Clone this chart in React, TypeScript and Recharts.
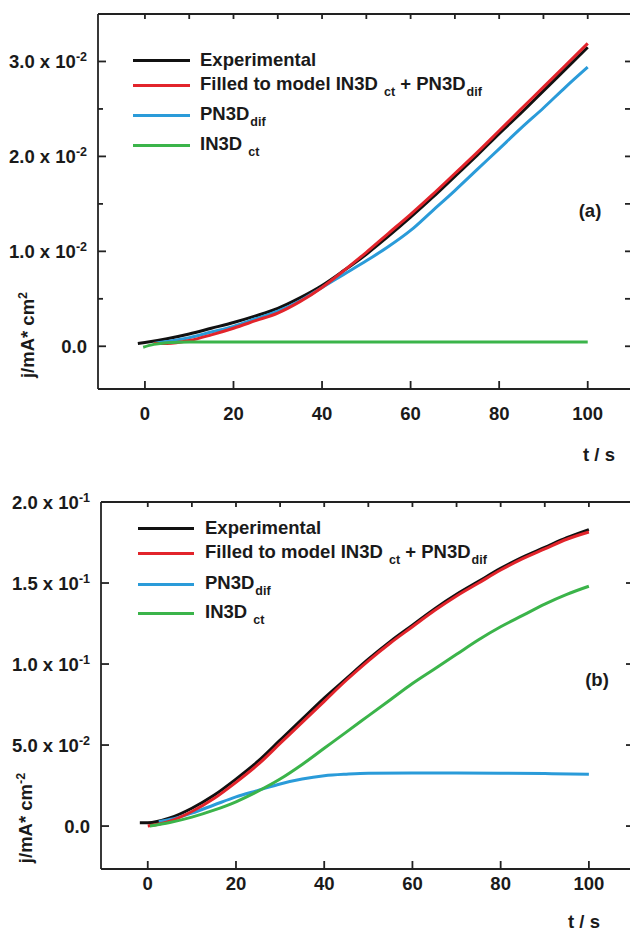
import React from 'react';
import { LineChart, Line, XAxis, YAxis, Legend } from 'recharts';

const FONT = '"Liberation Sans", Arial, Helvetica, sans-serif';
const AXIS = '#222222';
const TEXT = '#1a1a1a';
const C_EXP = '#111111';
const C_FIT = '#e2242b';
const C_PN = '#2a9bd9';
const C_IN = '#3bb44a';

// ---------- Panel (a) data: [t (s), j] ----------
const expA = [
  [-1.6, 0.0003], [0, 0.0004], [5, 0.0008], [10, 0.0013], [15, 0.0019], [20, 0.0025],
  [25, 0.0032], [30, 0.004], [35, 0.0051], [40, 0.0064], [45, 0.008], [50, 0.0097],
  [55, 0.0116], [60, 0.0136], [65, 0.0157], [70, 0.0179], [75, 0.0201], [80, 0.0224],
  [85, 0.0246], [90, 0.0269], [95, 0.0292], [100, 0.0315],
];
const fitA = [
  [2, 0.0003], [5, 0.0003], [10, 0.0006], [15, 0.0012], [20, 0.0019], [25, 0.0027],
  [30, 0.0035], [35, 0.0047], [40, 0.0062], [45, 0.008], [50, 0.0099], [55, 0.0119],
  [60, 0.0139], [65, 0.016], [70, 0.0182], [75, 0.0204], [80, 0.0227], [85, 0.025],
  [90, 0.0273], [95, 0.0296], [100, 0.0319],
];
const pnA = [
  [2, 0.0003], [5, 0.0005], [10, 0.0009], [15, 0.0015], [20, 0.0021], [25, 0.0029],
  [30, 0.0037], [35, 0.0048], [40, 0.0062], [45, 0.0076], [50, 0.009], [55, 0.0105],
  [60, 0.0122], [65, 0.0143], [70, 0.0164], [75, 0.0186], [80, 0.0208], [85, 0.023],
  [90, 0.0251], [95, 0.0273], [100, 0.0294],
];
const inA = [
  [-0.4, -0.0001], [2, 0.0002], [5, 0.00038], [10, 0.00045], [20, 0.00045], [60, 0.00045],
  [100, 0.00045],
];

// ---------- Panel (b) data: [t (s), j] ----------
const expB = [
  [-1.8, 0.002], [0, 0.002], [5, 0.005], [10, 0.011], [15, 0.019], [20, 0.029],
  [25, 0.04], [30, 0.053], [35, 0.066], [40, 0.079], [45, 0.091], [50, 0.103],
  [55, 0.114], [60, 0.124], [65, 0.134], [70, 0.143], [75, 0.151], [80, 0.159],
  [85, 0.166], [90, 0.172], [95, 0.178], [100, 0.183],
];
const fitB = [
  [0, 0.0], [5, 0.003], [10, 0.009], [15, 0.017], [20, 0.027], [25, 0.038],
  [30, 0.051], [35, 0.064], [40, 0.077], [45, 0.09], [50, 0.102], [55, 0.113],
  [60, 0.123], [65, 0.133], [70, 0.142], [75, 0.15], [80, 0.158], [85, 0.165],
  [90, 0.171], [95, 0.177], [100, 0.1815],
];
const pnB = [
  [2.5, 0.0027], [5, 0.004], [10, 0.008], [15, 0.013], [20, 0.018], [25, 0.022],
  [30, 0.026], [35, 0.029], [40, 0.031], [45, 0.032], [50, 0.0326], [60, 0.0327],
  [70, 0.0327], [80, 0.0326], [90, 0.0324], [100, 0.032],
];
const inB = [
  [0.5, 0.0], [5, 0.0022], [10, 0.0055], [15, 0.0098], [20, 0.015], [25, 0.0215],
  [30, 0.029], [35, 0.038], [40, 0.048], [45, 0.058], [50, 0.068], [55, 0.078],
  [60, 0.088], [65, 0.097], [70, 0.106], [75, 0.115], [80, 0.123], [85, 0.13],
  [90, 0.137], [95, 0.143], [100, 0.148],
];

// ---------- ticks & labels ----------
const xTicks = [0, 20, 40, 60, 80, 100];
const xTopTicks = [0, 10, 20, 30, 40, 50, 60, 70, 80, 90, 100];
const yMajorA = [0, 0.01, 0.02, 0.03];
const yAllA = [0, 0.005, 0.01, 0.015, 0.02, 0.025, 0.03];
const yLabelsA = [['0.0', ''], ['1.0 x 10', '-2'], ['2.0 x 10', '-2'], ['3.0 x 10', '-2']];
const yMajorB = [0, 0.05, 0.1, 0.15, 0.2];
const yAllB = [0, 0.05, 0.1, 0.15, 0.2];
const yLabelsB = [['0.0', ''], ['5.0 x 10', '-2'], ['1.0 x 10', '-1'], ['1.5 x 10', '-1'], ['2.0 x 10', '-1']];

const legendItems = [
  { color: C_EXP, main: 'Experimental', parts: [] as string[][] },
  { color: C_FIT, main: 'Filled to model ', parts: [['IN3D', ''], [' ', 'ct'], [' + PN3D', ''], ['', 'dif']] },
  { color: C_PN, main: 'PN3D', parts: [['', 'dif']] },
  { color: C_IN, main: 'IN3D ', parts: [['', 'ct']] },
];

const toPts = (a: number[][]) => a.map(([t, j]) => ({ t, j }));

type PanelCfg = {
  top: number;
  height: number;
  plotLeft: number;
  plotTop: number;
  plotBottom: number;
  plotRight: number;
  yDomain: [number, number];
  yMajor: number[];
  yAll: number[];
  yLabels: string[][];
  xLabelDy: number;
  series: number[][][];
  legendLeft: number;
  legendRows: number[];
  legendGap: number;
  swatch: number;
  ylabelPos: [number, number];
  ylabelSup: string;
  tag: string;
  tagPos: [number, number];
  tsPos: [number, number];
};

const xDomain: [number, number] = [-10.6, 110];
const FS = 18.5;

function LegendBox({ cfg }: { cfg: PanelCfg }) {
  return (
    <div style={{ position: 'relative', width: 420, height: 170, fontFamily: FONT, fontWeight: 'bold', fontSize: FS, color: TEXT }}>
      {legendItems.map((it, i) => (
        <div key={i} style={{ position: 'absolute', left: 0, top: cfg.legendRows[i] - 10, height: 20, display: 'flex', alignItems: 'center', whiteSpace: 'nowrap', lineHeight: '20px' }}>
          <div style={{ width: cfg.swatch, height: 3, background: it.color, marginRight: cfg.legendGap }} />
          <span>
            {it.main}
            {it.parts.map((p, k) => (
              <React.Fragment key={k}>
                {p[0]}
                {p[1] && (
                  <span style={{ fontSize: 12.5, position: 'relative', top: 6, marginLeft: 1 }}>{p[1]}</span>
                )}
              </React.Fragment>
            ))}
          </span>
        </div>
      ))}
    </div>
  );
}

const Empty = () => <g />;

function Panel({ cfg }: { cfg: PanelCfg }) {
  const W = 640;
  const axisStyle = { stroke: AXIS, strokeWidth: 1.8 };
  const tickStyle = { stroke: AXIS, strokeWidth: 1.8 };
  const bottomTick = (p: any) => (
    <text x={p.x} y={cfg.plotBottom + cfg.xLabelDy} dy="0.36em" textAnchor="middle" fontFamily={FONT} fontWeight="bold" fontSize={FS} fill={TEXT}>
      {p.payload.value}
    </text>
  );
  const leftTick = (p: any) => {
    const v = p.payload.value;
    const idx = cfg.yMajor.findIndex((m) => Math.abs(m - v) < 1e-9);
    const major = idx >= 0;
    return (
      <g>
        <line x1={cfg.plotLeft} x2={cfg.plotLeft + (major ? 8 : 5)} y1={p.y} y2={p.y} stroke={AXIS} strokeWidth={1.8} />
        {major && (
          <text x={cfg.plotLeft - 11} y={p.y} dy="0.36em" textAnchor="end" fontFamily={FONT} fontWeight="bold" fontSize={FS} fill={TEXT}>
            <tspan>{cfg.yLabels[idx][0]}</tspan>
            {cfg.yLabels[idx][1] && (
              <tspan dy={-7} fontSize={12.5}>{cfg.yLabels[idx][1]}</tspan>
            )}
          </text>
        )}
      </g>
    );
  };
  const colors = [C_EXP, C_FIT, C_PN, C_IN];
  const names = ['Experimental', 'Fitted', 'PN3Ddif', 'IN3Dct'];
  const order = [0, 2, 1, 3];
  return (
    <div style={{ position: 'absolute', left: 0, top: cfg.top, width: 630, height: cfg.height, overflow: 'hidden' }}>
      <LineChart
        width={W}
        height={cfg.height}
        margin={{ top: cfg.plotTop - 1, right: W - cfg.plotRight - 1, bottom: cfg.height - cfg.plotBottom - 40, left: 0 }}
      >
        <XAxis xAxisId="b" dataKey="t" type="number" domain={xDomain} ticks={xTicks} interval={0} allowDataOverflow
          axisLine={axisStyle} tickLine={tickStyle} tickSize={-8} tick={bottomTick} height={40} />
        <XAxis xAxisId="top" orientation="top" dataKey="t" type="number" domain={xDomain} ticks={xTopTicks} interval={0} allowDataOverflow
          axisLine={axisStyle} tickLine={tickStyle} tickSize={-5} tick={Empty} height={1} />
        <YAxis yAxisId="l" type="number" domain={cfg.yDomain} ticks={cfg.yAll} interval={0} allowDataOverflow
          axisLine={axisStyle} tickLine={false} tick={leftTick} width={cfg.plotLeft} />
        <YAxis yAxisId="r" orientation="right" type="number" domain={cfg.yDomain} ticks={cfg.yAll} interval={0} allowDataOverflow
          axisLine={axisStyle} tickLine={tickStyle} tickSize={-7} tick={Empty} width={1} />
        <Legend
          layout="vertical"
          align="center"
          verticalAlign="middle"
          wrapperStyle={{ left: cfg.legendLeft, top: 0, width: 420, height: 170 }}
          content={() => <LegendBox cfg={cfg} />}
        />
        {order.map((i) => (
          <Line
            key={i}
            xAxisId="b"
            yAxisId="l"
            data={toPts(cfg.series[i])}
            dataKey="j"
            name={names[i]}
            type="monotone"
            stroke={colors[i]}
            strokeWidth={3}
            dot={false}
            activeDot={false}
            isAnimationActive={false}
          />
        ))}
      </LineChart>
      <svg width={630} height={cfg.height} style={{ position: 'absolute', left: 0, top: 0, pointerEvents: 'none' }}>
        <text
          transform={`translate(${cfg.ylabelPos[0]},${cfg.ylabelPos[1]}) rotate(-90)`}
          textAnchor="middle"
          dy="0.36em"
          fontFamily={FONT}
          fontWeight="bold"
          fontSize={FS}
          fill={TEXT}
        >
          <tspan>j/mA* cm</tspan>
          <tspan dy={-7} fontSize={12.5}>{cfg.ylabelSup}</tspan>
        </text>
        <text x={cfg.tagPos[0]} y={cfg.tagPos[1]} dy="0.36em" textAnchor="middle" fontFamily={FONT} fontWeight="bold" fontSize={FS} fill={TEXT}>
          {cfg.tag}
        </text>
        <text x={cfg.tsPos[0]} y={cfg.tsPos[1]} dy="0.36em" textAnchor="middle" fontFamily={FONT} fontWeight="bold" fontSize={FS} fill={TEXT}>
          t / s
        </text>
      </svg>
    </div>
  );
}

const panelA: PanelCfg = {
  top: 0,
  height: 470,
  plotLeft: 98,
  plotTop: 14,
  plotBottom: 389,
  plotRight: 632,
  yDomain: [-0.0045, 0.035],
  yMajor: yMajorA,
  yAll: yAllA,
  yLabels: yLabelsA,
  xLabelDy: 24,
  series: [expA, fitA, pnA, inA],
  legendLeft: 133,
  legendRows: [60, 85, 115, 145],
  legendGap: 10,
  swatch: 57,
  ylabelPos: [27, 335],
  ylabelSup: '2',
  tag: '(a)',
  tagPos: [590, 210],
  tsPos: [599, 454],
};

const panelB: PanelCfg = {
  top: 470,
  height: 462,
  plotLeft: 101,
  plotTop: 32,
  plotBottom: 399,
  plotRight: 633,
  yDomain: [-0.0265, 0.2],
  yMajor: yMajorB,
  yAll: yAllB,
  yLabels: yLabelsB,
  xLabelDy: 14,
  series: [expB, fitB, pnB, inB],
  legendLeft: 138,
  legendRows: [58, 83, 114, 143],
  legendGap: 11,
  swatch: 56,
  ylabelPos: [25, 348],
  ylabelSup: '-2',
  tag: '(b)',
  tagPos: [597, 209],
  tsPos: [584, 451],
};

export default function App() {
  return (
    <div style={{ position: 'absolute', left: 0, top: 0, width: 630, height: 932, overflow: 'hidden', background: '#fff' }}>
      <Panel cfg={panelA} />
      <Panel cfg={panelB} />
    </div>
  );
}
